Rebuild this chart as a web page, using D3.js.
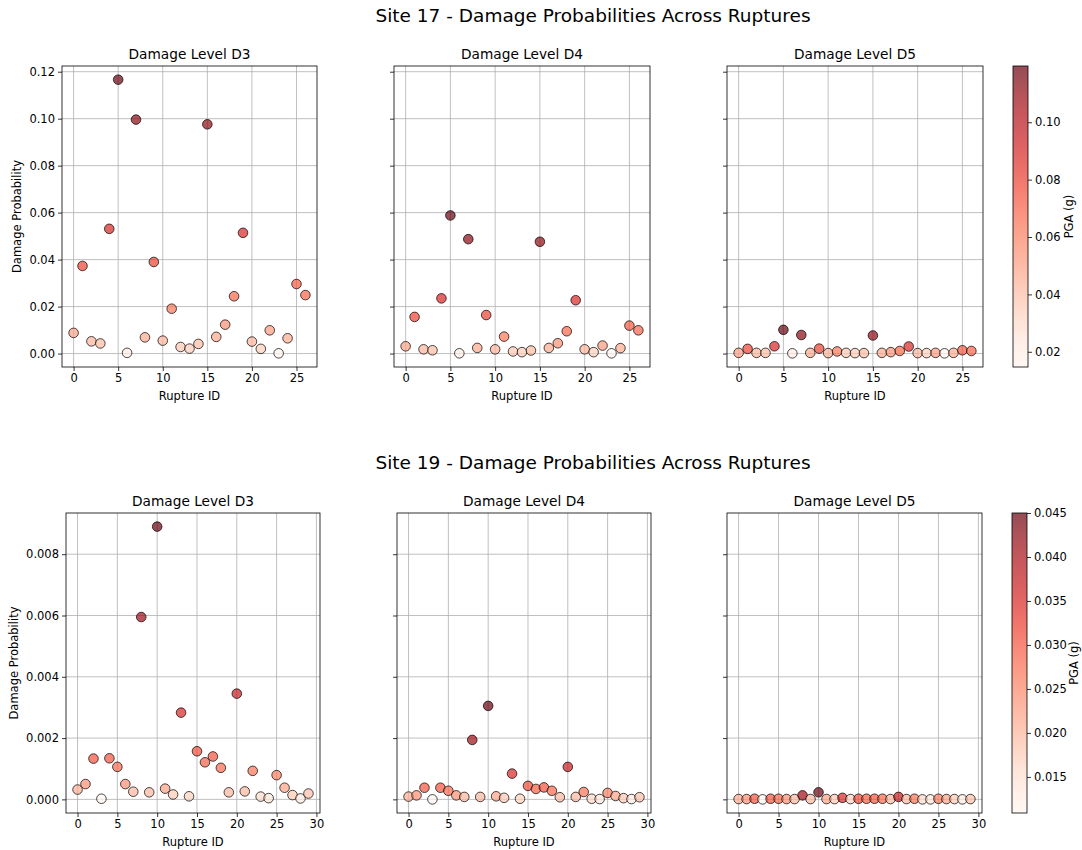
<!DOCTYPE html>
<html>
<head>
<meta charset="utf-8">
<script src="https://cdn.jsdelivr.net/npm/d3@7"></script>
<style>
  body { margin: 0; background: #fff; }
  svg { font-family: "DejaVu Sans", sans-serif; }
</style>
</head>
<body>
<div id="chart"></div>
<script>
// ---- data ----
const levels = ['D3', 'D4', 'D5'];

// Site 17: ruptures 0..26
const site17Ruptures = d3.range(27);
const site17D3 = [0.0088, 0.0373, 0.0052, 0.0043, 0.0531, 0.1166, 0.0003, 0.0996, 0.0069, 0.0390,
  0.0055, 0.0191, 0.0028, 0.0021, 0.0041, 0.0976, 0.0071, 0.0123, 0.0244, 0.0514,
  0.0051, 0.0020, 0.0099, 0.0001, 0.0065, 0.0296, 0.0249];
const site17D4 = [0.0031, 0.0156, 0.0018, 0.0014, 0.0235, 0.0588, 0.0001, 0.0487, 0.0024, 0.0164,
  0.0018, 0.0072, 0.0009, 0.0006, 0.0013, 0.0476, 0.0024, 0.0044, 0.0095, 0.0227,
  0.0018, 0.0006, 0.0034, 0.0001, 0.0023, 0.0119, 0.0099];
const site17D5 = [0.0003, 0.0020, 0.0003, 0.0003, 0.0031, 0.0101, 0.0001, 0.0079, 0.0003, 0.0021,
  0.0002, 0.0009, 0.0003, 0.0002, 0.0002, 0.0077, 0.0003, 0.0006, 0.0011, 0.0030,
  0.0002, 0.0002, 0.0003, 0.0001, 0.0003, 0.0014, 0.0011];
const site17Pga = [0.050, 0.079, 0.043, 0.041, 0.089, 0.1196, 0.020, 0.112, 0.047, 0.080,
  0.044, 0.063, 0.037, 0.035, 0.041, 0.111, 0.047, 0.055, 0.068, 0.088,
  0.043, 0.034, 0.052, 0.0147, 0.046, 0.073, 0.069];
const site17PgaTicks = [0.02, 0.04, 0.06, 0.08, 0.10];
const site17YTicks = [0.00, 0.02, 0.04, 0.06, 0.08, 0.10, 0.12];
const site17XTicks = [0, 5, 10, 15, 20, 25];

// Site 19: ruptures 0..29
const site19Ruptures = d3.range(30);
const site19D3 = [0.00032, 0.00050, 0.00133, 0.00002, 0.00134, 0.00106, 0.00050, 0.00025, 0.00595, 0.00023,
  0.00890, 0.00035, 0.00016, 0.00283, 0.00010, 0.00157, 0.00121, 0.00140, 0.00103, 0.00023,
  0.00345, 0.00026, 0.00093, 0.00009, 0.00004, 0.00079, 0.00038, 0.00014, 0.00003, 0.00019];
const site19D4 = [0.00009, 0.00013, 0.00038, 0.00000, 0.00038, 0.00028, 0.00013, 0.00008, 0.00194, 0.00008,
  0.00305, 0.00010, 0.00005, 0.00084, 0.00002, 0.00044, 0.00034, 0.00039, 0.00028, 0.00007,
  0.00106, 0.00008, 0.00024, 0.00002, 0.00001, 0.00021, 0.00011, 0.00004, 0.00001, 0.00007];
const site19D5 = [0.00001, 0.00001, 0.00002, 0.00000, 0.00002, 0.00002, 0.00001, 0.00001, 0.00013, 0.00001,
  0.00023, 0.00001, 0.00001, 0.00005, 0.00001, 0.00002, 0.00002, 0.00002, 0.00002, 0.00001,
  0.00008, 0.00001, 0.00002, 0.00000, 0.00000, 0.00002, 0.00001, 0.00001, 0.00000, 0.00001];
const site19Pga = [0.021, 0.024, 0.030, 0.0109, 0.030, 0.028, 0.024, 0.020, 0.041, 0.020,
  0.045, 0.022, 0.018, 0.035, 0.017, 0.031, 0.029, 0.030, 0.028, 0.020,
  0.037, 0.020, 0.027, 0.016, 0.014, 0.026, 0.022, 0.018, 0.013, 0.019];
const site19PgaTicks = [0.015, 0.020, 0.025, 0.030, 0.035, 0.040, 0.045];
const site19YTicks = [0.000, 0.002, 0.004, 0.006, 0.008];
const site19XTicks = [0, 5, 10, 15, 20, 25, 30];

const width = 1082, height = 850;
const svg = d3.select('#chart').append('svg')
  .attr('width', width)
  .attr('height', height);

const defs = svg.append('defs');

function pad(ext) {
  const m = (ext[1] - ext[0]) * 0.05;
  return [ext[0] - m, ext[1] + m];
}

function drawSite(cfg) {
  const {title, titleY, ruptures, series, pga, pgaTicks, yTicks, xTicks, yFmt, pgaFmt,
    top, bottom, panels, cbar, cbarLabelX, ylabelX, id} = cfg;

  svg.append('text')
    .attr('x', 593).attr('y', titleY)
    .attr('text-anchor', 'middle')
    .style('font-size', '18.5px')
    .text(title);

  const allVals = series.flat();
  const yScale = d3.scaleLinear().domain(pad(d3.extent(allVals))).range([bottom, top]);
  const xDomain = pad(d3.extent(ruptures));
  const pgaExt = d3.extent(pga);
  const color = d3.scaleSequential(d3.interpolateReds).domain(pgaExt);

  series.forEach((vals, i) => {
    const [x0, x1] = panels[i];
    const x = d3.scaleLinear().domain(xDomain).range([x0, x1]);
    const g = svg.append('g');

    // grid
    g.append('g').selectAll('line').data(xTicks).join('line')
      .attr('x1', d => x(d)).attr('x2', d => x(d))
      .attr('y1', top).attr('y2', bottom)
      .attr('stroke', '#b0b0b0').attr('stroke-width', 0.8);
    g.append('g').selectAll('line').data(yTicks).join('line')
      .attr('x1', x0).attr('x2', x1)
      .attr('y1', d => yScale(d)).attr('y2', d => yScale(d))
      .attr('stroke', '#b0b0b0').attr('stroke-width', 0.8);

    // points
    g.append('g').selectAll('circle').data(ruptures).join('circle')
      .attr('cx', d => x(d))
      .attr('cy', (d, j) => yScale(vals[j]))
      .attr('r', 4.8)
      .attr('fill', (d, j) => color(pga[j]))
      .attr('fill-opacity', 0.7)
      .attr('stroke', 'rgba(0,0,0,0.7)')
      .attr('stroke-width', 1);

    // axes
    const xAxis = g.append('g')
      .attr('transform', `translate(0,${bottom})`)
      .call(d3.axisBottom(x).tickValues(xTicks).tickSize(4).tickPadding(3).tickFormat(d3.format('d')));
    const yAxis = g.append('g')
      .attr('transform', `translate(${x0},0)`)
      .call(d3.axisLeft(yScale).tickValues(yTicks).tickSize(4).tickPadding(3)
        .tickFormat(i === 0 ? d3.format(yFmt) : ''));
    [xAxis, yAxis].forEach(a => {
      a.select('.domain').remove();
      a.selectAll('text').style('font-size', '11.5px').attr('fill', '#000').style('font-family', '"DejaVu Sans", sans-serif');
      a.selectAll('line').attr('stroke', '#000').attr('stroke-width', 0.8);
    });

    g.append('rect')
      .attr('x', x0).attr('y', top)
      .attr('width', x1 - x0).attr('height', bottom - top)
      .attr('fill', 'none').attr('stroke', '#000').attr('stroke-width', 0.8);

    g.append('text')
      .attr('x', (x0 + x1) / 2).attr('y', top - 7)
      .attr('text-anchor', 'middle')
      .style('font-size', '13.7px')
      .text('Damage Level ' + levels[i]);

    g.append('text')
      .attr('x', (x0 + x1) / 2).attr('y', bottom + 33)
      .attr('text-anchor', 'middle')
      .style('font-size', '11.5px')
      .text('Rupture ID');

    if (i === 0) {
      g.append('text')
        .attr('transform', `translate(${ylabelX},${(top + bottom) / 2}) rotate(-90)`)
        .attr('text-anchor', 'middle')
        .style('font-size', '11.5px')
        .text('Damage Probability');
    }
  });

  // colorbar
  const [c0, c1] = cbar;
  const grad = defs.append('linearGradient')
    .attr('id', id)
    .attr('x1', 0).attr('y1', 1).attr('x2', 0).attr('y2', 0);
  d3.range(0, 1.0001, 0.05).forEach(t => {
    grad.append('stop')
      .attr('offset', t)
      .attr('stop-color', d3.interpolateReds(t))
      .attr('stop-opacity', 0.7);
  });
  svg.append('rect')
    .attr('x', c0).attr('y', top)
    .attr('width', c1 - c0).attr('height', bottom - top)
    .attr('fill', `url(#${id})`)
    .attr('stroke', '#000').attr('stroke-width', 0.8);
  const cScale = d3.scaleLinear().domain(pgaExt).range([bottom, top]);
  const cAxis = svg.append('g')
    .attr('transform', `translate(${c1},0)`)
    .call(d3.axisRight(cScale).tickValues(pgaTicks).tickSize(4).tickPadding(3).tickFormat(d3.format(pgaFmt)));
  cAxis.select('.domain').remove();
  cAxis.selectAll('text').style('font-size', '11.5px').attr('fill', '#000').style('font-family', '"DejaVu Sans", sans-serif');
  cAxis.selectAll('line').attr('stroke', '#000').attr('stroke-width', 0.8);
  svg.append('text')
    .attr('transform', `translate(${cbarLabelX},${(top + bottom) / 2}) rotate(-90)`)
    .attr('text-anchor', 'middle')
    .style('font-size', '11.5px')
    .text('PGA (g)');
}

drawSite({
  id: 'g19', title: 'Site 19 - Damage Probabilities Across Ruptures', titleY: 469,
  ruptures: site19Ruptures, series: [site19D3, site19D4, site19D5], pga: site19Pga,
  pgaTicks: site19PgaTicks, yTicks: site19YTicks, xTicks: site19XTicks,
  yFmt: '.3f', pgaFmt: '.3f',
  top: 513, bottom: 813,
  panels: [[66, 320], [397, 651], [727, 982]], cbar: [1012, 1027], cbarLabelX: 1078, ylabelX: 18
});

drawSite({
  id: 'g17', title: 'Site 17 - Damage Probabilities Across Ruptures', titleY: 22,
  ruptures: site17Ruptures, series: [site17D3, site17D4, site17D5], pga: site17Pga,
  pgaTicks: site17PgaTicks, yTicks: site17YTicks, xTicks: site17XTicks,
  yFmt: '.2f', pgaFmt: '.2f',
  top: 66, bottom: 367,
  panels: [[62, 317], [394, 650], [727, 983]], cbar: [1013, 1028], cbarLabelX: 1073, ylabelX: 21
});
</script>
</body>
</html>
